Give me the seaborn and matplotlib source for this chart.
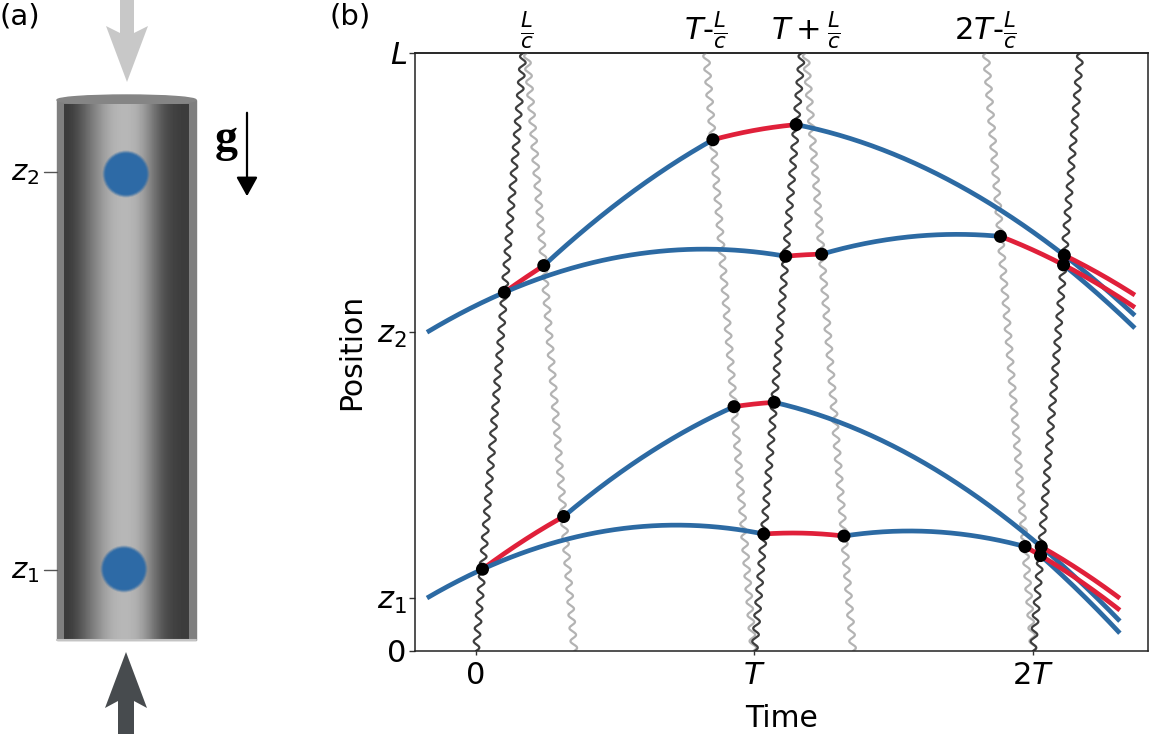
import numpy as np
import matplotlib
matplotlib.use('Agg')
import matplotlib.pyplot as plt
import seaborn as sns
from matplotlib.patches import Polygon, Ellipse, Circle, Rectangle

# ---- panel (b) values: time in units of T, position in units of L ----
DARK_PULSE_T = [0.0, 1.0, 2.0]                  # upward pulses leave the bottom
LIGHT_PULSE_T = [0.183, 0.826, 1.184, 1.831]    # downward pulses leave the top
LIGHT_PULSE_LABELS = [r'$\frac{L}{c}$', r'$T$-$\frac{L}{c}$',
                      r'$T+\frac{L}{c}$', r'$\mathit{2T}$-$\frac{L}{c}$']
TRANSIT = 0.17          # L/c in units of T

# upper cloud (z2) and lower cloud (z1)
Z_START = [0.533, 0.0886]
V_START = [0.279, 0.272]
GRAV = [0.28, 0.3035]
T_START = -0.176
T_STOP = [2.366, 2.312]
KICK = 0.135
KICK_P_MIRROR = 0.127   # kick taken by the slow arm at the mirror pulses

X_TICKS = [0, 1, 2]
X_TICK_LABELS = ['0', '$T$', r'$\mathit{2T}$']
Y_TICKS = [0, Z_START[1], Z_START[0], 1]
Y_TICK_LABELS = ['0', r'$z_\mathit{1}$', '$z_2$', '$L$']

# ---- panel (a) values (pixel units of the left panel) ----
CYL_SHADE = [58, 78, 110, 140, 168, 182, 184, 178, 150, 110, 78, 64, 60]
CLOUD_Y = [174, 569]
CLOUD_X = [126, 124]
CLOUD_LABELS = ['$z_2$', r'$z_\mathit{1}$']

BLUE = '#2c6aa3'
RED = '#e0203a'
DARK = '#3e3e3e'
LIGHT = '#b3b3b3'

sns.set_style('white')
plt.rcParams['font.family'] = ['DejaVu Sans']
plt.rcParams['mathtext.fontset'] = 'dejavusans'
plt.rcParams['text.color'] = 'black'
plt.rcParams['axes.labelcolor'] = 'black'
plt.rcParams['xtick.color'] = 'black'
plt.rcParams['ytick.color'] = 'black'


def height(t, i, kicks):
    s = t - T_START
    z = Z_START[i] + V_START[i] * s - 0.5 * GRAV[i] * s ** 2
    for tk, dv in kicks:
        z = z + dv * np.clip(t - tk, 0, None)
    return z


def hit(i, kicks, t0, up):
    t = t0
    for _ in range(40):
        z = height(t, i, kicks)
        t = t0 + (z if up else 1 - z) * TRANSIT
    return t


fig = plt.figure(figsize=(11.49, 7.34), dpi=100)

# ================= panel (b) =================
ax = fig.add_axes([415 / 1149, 1 - 651 / 734, 733 / 1149, 598 / 734])

# light pulses (wavy lines)
zz = np.linspace(0, 1, 3000)
wiggle = 0.011 * np.sin(2 * np.pi * 46 * zz)
for t0 in LIGHT_PULSE_T:
    sns.lineplot(x=t0 + (1 - zz) * TRANSIT + wiggle, y=zz, color=LIGHT, lw=1.6,
                 sort=False, estimator=None, ax=ax, zorder=1)
for t0 in DARK_PULSE_T:
    sns.lineplot(x=t0 + zz * TRANSIT + wiggle, y=zz, color=DARK, lw=1.6,
                 sort=False, estimator=None, ax=ax, zorder=2)

# trajectories
dot_t, dot_z = [], []
for i in range(2):
    ta = hit(i, [], DARK_PULSE_T[0], True)
    q = [(ta, KICK)]
    tb = hit(i, q, LIGHT_PULSE_T[0], False)
    q = q + [(tb, KICK)]
    tc = hit(i, q, LIGHT_PULSE_T[1], False)
    q = q + [(tc, -KICK)]
    td = hit(i, q, DARK_PULSE_T[1], True)
    q = q + [(td, -KICK)]
    te = hit(i, q, DARK_PULSE_T[2], True)

    p = []
    tf = hit(i, p, DARK_PULSE_T[1], True)
    p = p + [(tf, KICK_P_MIRROR)]
    tg = hit(i, p, LIGHT_PULSE_T[2], False)
    p = p + [(tg, KICK_P_MIRROR)]
    th = hit(i, p, LIGHT_PULSE_T[3], False)
    p = p + [(th, -KICK)]
    ti = hit(i, p, DARK_PULSE_T[2], True)

    end = T_STOP[i]
    segs = [
        (T_START, ta, [], BLUE),
        (ta, tb, q[:1], RED), (tb, tc, q[:2], BLUE), (tc, td, q[:3], RED),
        (td, te, q, BLUE), (te, end, q, BLUE),
        (ta, tf, [], BLUE), (tf, tg, p[:1], RED), (tg, th, p[:2], BLUE),
        (th, ti, p, RED), (ti, end, p + [(ti, -KICK)], BLUE),
        (ti, end, p, RED), (te, end, q + [(te, KICK)], RED),
    ]
    for t0, t1, kk, col in segs:
        tt = np.linspace(t0, t1, 150)
        sns.lineplot(x=tt, y=height(tt, i, kk), color=col, lw=3.4,
                     sort=False, estimator=None, ax=ax, zorder=3,
                     solid_capstyle='butt')

    for t, kk in [(ta, []), (tb, q[:1]), (tc, q[:2]), (td, q[:3]), (te, q),
                  (tf, []), (tg, p[:1]), (th, p[:2]), (ti, p)]:
        dot_t.append(t)
        dot_z.append(float(height(t, i, kk)))

sns.scatterplot(x=dot_t, y=dot_z, color='black', s=88, edgecolor='none',
                ax=ax, zorder=5)

ax.set_xlim(-0.219, 2.413)
ax.set_ylim(0, 1)
ax.set_xticks(X_TICKS, labels=X_TICK_LABELS)
ax.set_yticks(Y_TICKS, labels=Y_TICK_LABELS)
ax.tick_params(axis='x', labelsize=22, direction='out', length=3, width=1,
               color='#333333', pad=4, bottom=True)
ax.tick_params(axis='y', labelsize=22, direction='out', length=4, width=1,
               color='#333333', pad=2, left=True)
for sp in ax.spines.values():
    sp.set_color('#222222')
    sp.set_linewidth(1.1)
ax.set_xlabel('Time', fontsize=21.5, labelpad=10)
ax.set_ylabel('Position', fontsize=21.5, labelpad=8)

top = ax.secondary_xaxis('top')
top.set_xticks(LIGHT_PULSE_T, labels=LIGHT_PULSE_LABELS)
top.tick_params(length=0, pad=1, labelsize=22)
top.spines['top'].set_color('#222222')
top.spines['top'].set_linewidth(1.1)

fig.text(330 / 1149, 0.997, '(b)', fontsize=21, ha='left', va='top')

# ================= panel (a) =================
axa = fig.add_axes([0, 0, 300 / 1149, 1])
axa.set_xlim(0, 300)
axa.set_ylim(734, 0)
axa.axis('off')

# tube
axa.add_patch(Rectangle((57, 100), 139, 540, color='#7f7f7f', zorder=1))
axa.add_patch(Ellipse((126.5, 100), 139, 10, color='#858585', zorder=1))
axa.imshow(np.array([CYL_SHADE]), cmap='gray', vmin=0, vmax=255,
           extent=[64, 188, 640, 104], aspect='auto', interpolation='bicubic',
           zorder=2)
axa.plot([57, 196], [640, 640], color='#c4c4c4', lw=1.5, zorder=3)

# atom clouds (soft edge)
for cx, cy in zip(CLOUD_X, CLOUD_Y):
    for r, a in [(23.5, 0.25), (22.5, 0.45), (21.5, 0.7), (20.5, 1.0)]:
        axa.add_patch(Circle((cx, cy), r, color='#2d6aa6', alpha=a, lw=0,
                             zorder=4))

for lab, cy in zip(CLOUD_LABELS, [172, 570]):
    axa.plot([44, 57], [cy, cy], color='#555555', lw=1, zorder=2)
    axa.text(39, cy + 1, lab, fontsize=21, ha='right', va='center')

# gravity
axa.text(226, 151, 'g', fontsize=33, fontweight='bold',
         family=['Liberation Serif', 'DejaVu Serif'], ha='center', va='baseline')
axa.annotate('', xy=(247, 199), xytext=(247, 110),
             arrowprops=dict(arrowstyle='-|>,head_length=0.45,head_width=0.25',
                             color='black', lw=1.6, mutation_scale=26))

# laser arrows
axa.add_patch(Polygon([(120, -5), (134, -5), (134, 33), (148, 26), (127, 82),
                       (106, 26), (120, 33)], closed=True, color='#c8c8c8', lw=0))
axa.add_patch(Polygon([(118, 740), (134, 740), (134, 701), (147, 708), (126, 652),
                       (105, 708), (118, 701)], closed=True, color='#474b4e', lw=0))

fig.text(0.0, 0.997, '(a)', fontsize=21, ha='left', va='top')

fig.savefig('out.png', dpi=100)
